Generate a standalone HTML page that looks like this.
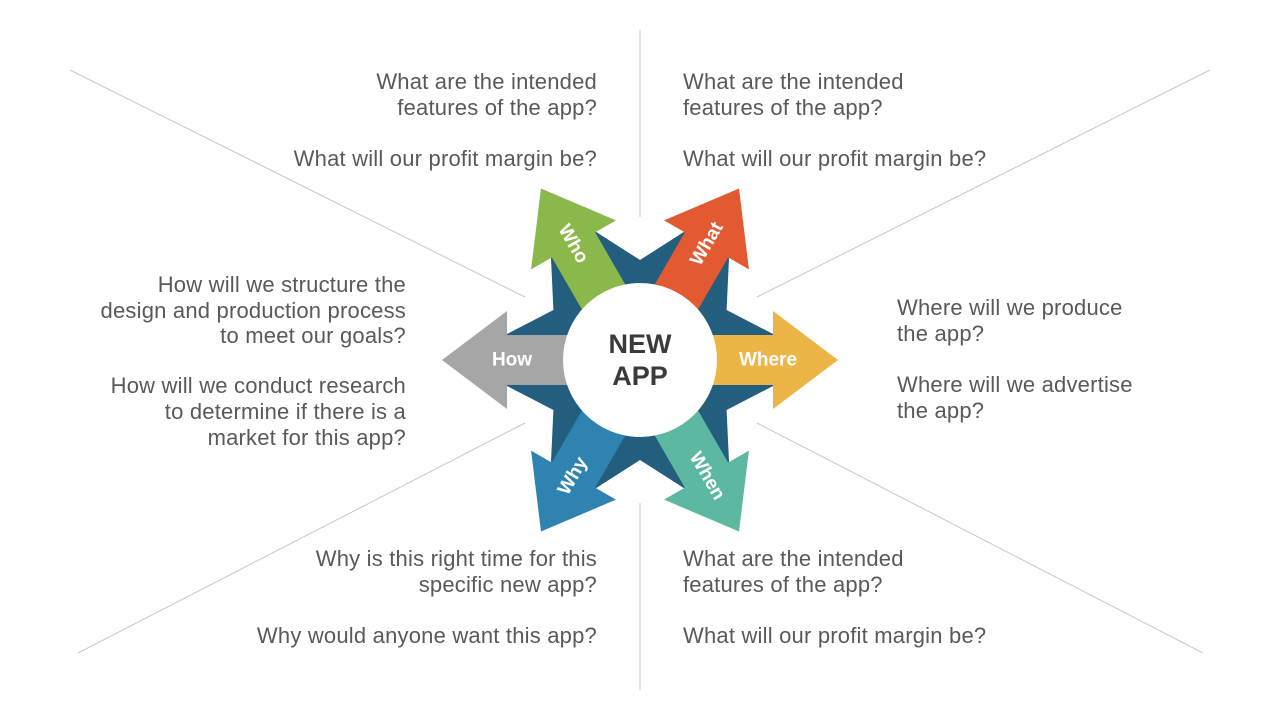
<!DOCTYPE html>
<html><head><meta charset="utf-8"><style>
body{margin:0;background:#fff}
svg{display:block}
text{font-family:"Liberation Sans",sans-serif}
.q{font-size:22px;fill:#595959;letter-spacing:0.2px}
</style></head><body>
<svg id="s" width="1280" height="720" viewBox="0 0 1280 720">
<g stroke="#c8c8c8" stroke-width="1">
<line x1="640" y1="30" x2="640" y2="217"/><line x1="640" y1="503" x2="640" y2="690"/>
<line x1="70" y1="70" x2="525" y2="297"/><line x1="1210" y1="70" x2="757" y2="297"/>
<line x1="78" y1="653" x2="525" y2="423"/><line x1="1203" y1="653" x2="757" y2="423"/>
</g>
<g id="d"></g>
<g class="q" text-anchor="end">
<text x="597" y="89">What are the intended</text><text x="597" y="115">features of the app?</text><text x="597" y="166">What will our profit margin be?</text></g>
<g class="q">
<text x="683" y="89">What are the intended</text><text x="683" y="115">features of the app?</text><text x="683" y="166">What will our profit margin be?</text></g>
<g class="q" text-anchor="end">
<text x="406" y="292">How will we structure the</text><text x="406" y="318">design and production process</text><text x="406" y="343">to meet our goals?</text>
<text x="406" y="393">How will we conduct research</text><text x="406" y="419">to determine if there is a</text><text x="406" y="445">market for this app?</text></g>
<g class="q">
<text x="897" y="315">Where will we produce</text><text x="897" y="341">the app?</text>
<text x="897" y="392">Where will we advertise</text><text x="897" y="418">the app?</text></g>
<g class="q" text-anchor="end">
<text x="597" y="566">Why is this right time for this</text><text x="597" y="592">specific new app?</text><text x="597" y="643">Why would anyone want this app?</text></g>
<g class="q">
<text x="683" y="566">What are the intended</text><text x="683" y="592">features of the app?</text><text x="683" y="643">What will our profit margin be?</text></g>
</svg>
<script>
const labels=["Where","What","Who","How","Why","When"];
const angles=[0,-60,-120,180,120,60];
const colors=["#ecb547","#e35a32","#8ab84a","#a6a6a6","#2f83b1","#5db8a1"];
const cx=640,cy=360,L=198,HB=133,HW=49,SW=25,NR=100;
const ns="http://www.w3.org/2000/svg";
const g=document.getElementById('d');
function pt(a,r,p){const t=a*Math.PI/180;return [cx+r*Math.cos(t)-p*Math.sin(t),cy+r*Math.sin(t)+p*Math.cos(t)];}
function poly(pts,fill){const e=document.createElementNS(ns,'polygon');e.setAttribute('points',pts.map(p=>p.join(',')).join(' '));e.setAttribute('fill',fill);return e;}
let star=[];
[0,60,120,180,240,300].forEach(a=>{star.push(pt(a,HB,-SW-1));star.push(pt(a,HB,SW+1));star.push(pt(a+30,NR,0));});
const st=poly(star,"#235e7e");


g.appendChild(st);
labels.forEach((lb,i)=>{
 const a=angles[i];
 const ar=poly([pt(a,0,-SW),pt(a,HB,-SW),pt(a,HB,-HW),pt(a,L,0),pt(a,HB,HW),pt(a,HB,SW),pt(a,0,SW)],colors[i]);
 
 
 g.appendChild(ar);
});
const c=document.createElementNS(ns,'circle');
c.setAttribute('cx',cx);c.setAttribute('cy',cy);c.setAttribute('r',77);c.setAttribute('fill','#fff');


g.appendChild(c);
labels.forEach((lb,i)=>{
 const a=angles[i];
 const p=pt(a,a===0||a===180?128:134,0);
 let rot=a;if(rot>90||rot<-90)rot+=180;if(rot>180)rot-=360;
 const t=document.createElementNS(ns,'text');
 t.setAttribute('x',p[0]);t.setAttribute('y',p[1]);
 t.setAttribute('text-anchor','middle');t.setAttribute('dominant-baseline','central');
 t.setAttribute('transform','rotate('+rot+' '+p[0]+' '+p[1]+')');
 t.setAttribute('fill','#fff');t.setAttribute('font-size','19');t.setAttribute('font-weight','bold');
 t.textContent=lb;
 
 
 g.appendChild(t);
});
[["NEW",344],["APP",376]].forEach(([s,y])=>{
 const t=document.createElementNS(ns,'text');
 t.setAttribute('x',cx);t.setAttribute('y',y);t.setAttribute('text-anchor','middle');t.setAttribute('dominant-baseline','central');
 t.setAttribute('fill','#3a3a3a');t.setAttribute('font-size','27');t.setAttribute('font-weight','bold');
 t.textContent=s;
 
 
 g.appendChild(t);
});
</script>
</body></html>
